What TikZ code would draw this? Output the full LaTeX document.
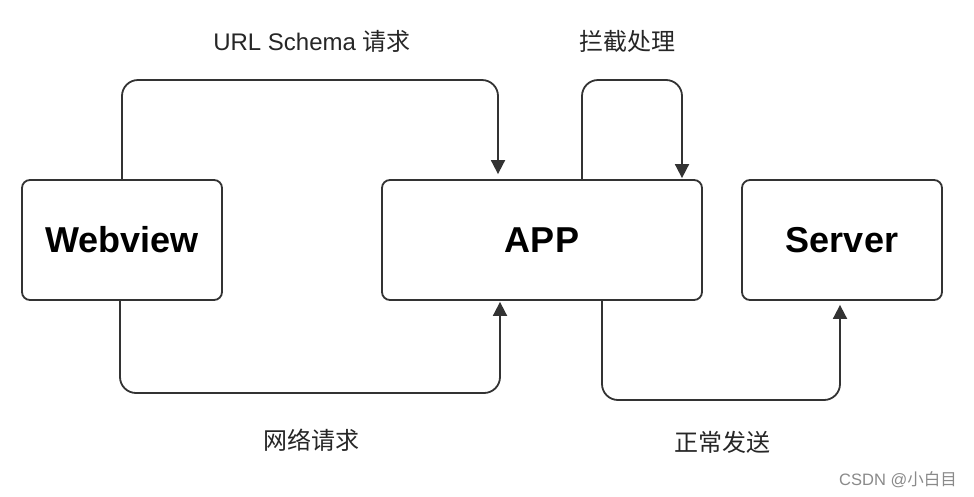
\documentclass[tikz,border=0pt]{standalone}
\usepackage{fontspec}
\setmainfont{Liberation Sans}
\newfontfamily\cjk{Noto Sans CJK SC}
\usetikzlibrary{arrows.meta,calc}
\definecolor{ln}{HTML}{333333}
\definecolor{wm}{HTML}{8A8A8A}
\tikzset{
  boxnode/.style={draw=ln, line width=1.8pt, rounded corners=8pt, inner sep=0pt,
    minimum height=120pt, font=\fontsize{36}{42}\selectfont\bfseries, text=black},
  conn/.style={draw=ln, line width=1.8pt, rounded corners=16pt,
    -{Triangle[width=14pt,length=14pt]}},
  lbl/.style={font=\fontsize{24}{28}\selectfont, text=black!85, inner sep=0pt}
}
\begin{document}
\begin{tikzpicture}[x=1pt,y=-1pt]
\useasboundingbox (0,0) rectangle (974,496);
\fill[white] (0,0) rectangle (974,496);
\node[boxnode, minimum width=200pt] (web) at (122,240) {Webview};
\node[boxnode, minimum width=320pt] (app) at (542,240) {APP};
\node[boxnode, minimum width=200pt] (srv) at (842,240) {Server};

\draw[conn, shorten >=5pt] (web.north) -- (122,80) -- (498,80) -- (498,80 |- app.north);
\draw[conn, shorten >=1pt] (582,80 |- app.north) -- (582,80) -- (682,80) -- (682,80 |- app.north);
\draw[conn, shorten >=1pt] (120,393 |- web.south) -- (120,393) -- (500,393) -- (500,393 |- app.south);
\draw[conn, shorten >=4pt] (602,400 |- app.south) -- (602,400) -- (840,400) -- (840,400 |- srv.south);

\node[lbl] (l1) at (312,41) {URL Schema {\cjk 请求}};
\node[lbl] (l2) at (627,41) {\cjk 拦截处理};
\node[lbl] (l3) at (311,440) {\cjk 网络请求};
\node[lbl] (l4) at (722,442) {\cjk 正常发送};
\node[font=\fontsize{16.5}{18}\selectfont, text=wm, inner sep=0pt] (wmk) at (898,480) {CSDN @{\cjk 小白目}};
\end{tikzpicture}
\end{document}
